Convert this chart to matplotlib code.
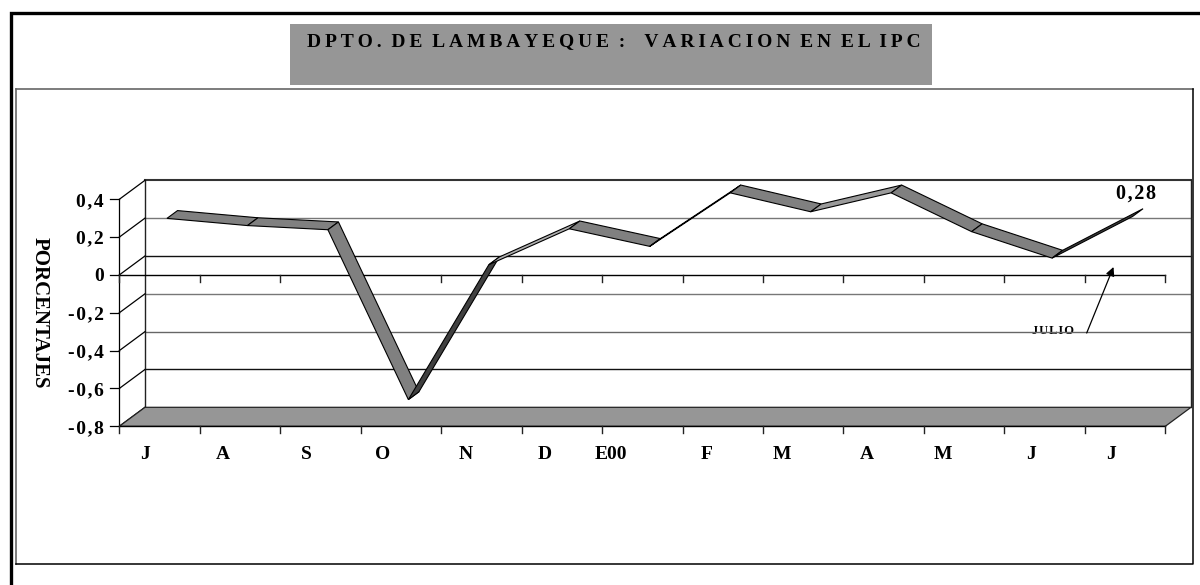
import matplotlib
matplotlib.use("Agg")
import matplotlib.pyplot as plt
from matplotlib.patches import Polygon, Rectangle
from matplotlib.transforms import Affine2D

months = ["J", "A", "S", "O", "N", "D", "E00", "F", "M", "A", "M", "J", "J"]
ipc_values = [0.27, 0.232, 0.21, -0.688, 0.025, 0.215, 0.122, 0.405, 0.305, 0.405, 0.20, 0.06, 0.28]
y_ticks = [-0.8, -0.6, -0.4, -0.2, 0, 0.2, 0.4]
y_tick_labels = ["-0,8", "-0,6", "-0,4", "-0,2", "0", "0,2", "0,4"]
title_text = "DPTO. DE LAMBAYEQUE :  VARIACION EN EL IPC"
y_title = "PORCENTAJES"
last_label = "0,28"
note_label = "JULIO"

THIN = "\u2009"
HAIR = "\u200a"


def track(s, sep):
    out = ""
    for a, b in zip(s, s[1:] + " "):
        out += a
        if a != " " and b != " ":
            out += sep
    return out


W, H = 1200, 585
plt.rcParams["font.family"] = ["Liberation Serif", "DejaVu Serif"]
plt.rcParams["font.weight"] = "bold"
fig = plt.figure(figsize=(W / 100, H / 100), dpi=100, facecolor="white")

# Overlay in pixel coordinates for the page frames and title box
page = fig.add_axes([0, 0, 1, 1], zorder=0)
page.set_xlim(0, W); page.set_ylim(H, 0); page.axis("off")
page.plot([10.5, 10.5, W], [H, 12.5, 12.5], color="black", lw=2.4, solid_joinstyle="miter")
page.plot([16, 16], [88.5, 563.5], color="#666666", lw=1.2)
page.plot([16, 1192.8], [88.5, 88.5], color="#666666", lw=1.2)
page.plot([16, 1192.8, 1192.8], [563.5, 563.5, 88.5], color="black", lw=1.1)
page.add_patch(Rectangle((290, 24), 642, 61, facecolor="#969696", edgecolor="none"))
page.text(306.7, 42, track(title_text, THIN).replace(" ", "  "), ha="left", va="center", fontsize=14, color="black")

# Chart axes: front plane of the 3D plot
L, R, T, B = 119.3, 1165.3, 199.3, 426.3
ax = fig.add_axes([L / W, 1 - B / H, (R - L) / W, (B - T) / H], zorder=1)
ax.set_xlim(0, len(months)); ax.set_ylim(-0.8, 0.4)
ax.axis("off"); ax.patch.set_alpha(0)

DX, DY = 25.7, 19.0   # full depth in pixels


def at_depth(f):
    return ax.transData + Affine2D().translate(DX * f, DY * f)


back = at_depth(1)
x_end = len(months)

# Back wall gridlines
grid_colors = {-0.6: "#111111", -0.4: "#666666", -0.2: "#777777", 0: "#111111", 0.2: "#777777", 0.4: "#333333"}
for v in y_ticks[1:]:
    ax.plot([0, x_end], [v, v], transform=back, color=grid_colors[v],
            lw=1.5 if v == 0.4 else 1.0, clip_on=False, zorder=1)
ax.plot([0, 0], [-0.8, 0.4], transform=back, color="#222222", lw=1.0, clip_on=False, zorder=1)
ax.plot([x_end, x_end], [-0.8, 0.4], transform=back, color="#222222", lw=1.0, clip_on=False, zorder=1)

# Side wall connectors and value axis
px2x = x_end / (R - L)
px2y = 1.2 / (B - T)
for v, lab in zip(y_ticks, y_tick_labels):
    ax.plot([0, DX * px2x], [v, v + DY * px2y], color="black", lw=0.9, clip_on=False, zorder=1)
    ax.plot([-9 * px2x, 0], [v, v], color="black", lw=0.9, clip_on=False, zorder=1)
    ax.text(-15.5 * px2x, v - 2 * px2y, track(lab, HAIR), ha="right", va="center", fontsize=14, clip_on=False)
ax.plot([0, 0], [-0.8, 0.4], color="black", lw=0.9, clip_on=False, zorder=1)

# Floor
floor_pts = [ax.transData.transform((0, -0.8)), ax.transData.transform((x_end, -0.8)),
             back.transform((x_end, -0.8)), back.transform((0, -0.8))]
floor_px = ax.transData.inverted().transform(floor_pts)
ax.add_patch(Polygon(floor_px, closed=True, facecolor="#969696", edgecolor="#222222", lw=0.9, clip_on=False, zorder=2))

# Category axes with ticks
for y0 in (0, -0.8):
    ax.plot([0, x_end], [y0, y0], color="black", lw=1.0, clip_on=False, zorder=3)
    for i in range(x_end + 1):
        ax.plot([i, i], [y0, y0 - 7 * px2y], color="#222222", lw=1.0, clip_on=False, zorder=3)

label_nudge_px = [-14.5, -17, -14, -18, -16, -17, -31, -16, -21, -17, -21, -14, -14]
for i, m in enumerate(months):
    ax.text(i + 0.5 + label_nudge_px[i] * px2x, -0.8 - 28 * px2y, m, ha="center", va="center",
            fontsize=14, clip_on=False)

# Ribbon series
F0, F1 = 0.29, 0.70
centers = [i + 0.5 for i in range(len(months))]
ribbon_front = at_depth(F0)
ribbon_back = at_depth(F1)
inv = ax.transData.inverted()
seg_colors = ["#808080", "#808080", "#808080", "#404040", "#b0b0b0", "#808080", "#ffffff",
              "#808080", "#9a9a9a", "#808080", "#808080", "#404040"]
for k in range(len(centers) - 1):
    p = [ribbon_front.transform((centers[k], ipc_values[k])),
         ribbon_front.transform((centers[k + 1], ipc_values[k + 1])),
         ribbon_back.transform((centers[k + 1], ipc_values[k + 1])),
         ribbon_back.transform((centers[k], ipc_values[k]))]
    ax.add_patch(Polygon(inv.transform(p), closed=True, facecolor=seg_colors[k], edgecolor="black",
                         lw=0.8, clip_on=False, zorder=4, joinstyle="miter"))

# Annotations
page.text(1136, 193.5, track(last_label, HAIR), ha="center", va="center", fontsize=14.5, zorder=5)
page.text(1053, 331.5, track(note_label, HAIR), ha="center", va="center", fontsize=9, zorder=5)
ax.annotate("", xy=(1113.5, 267), xytext=(1086.7, 333), xycoords=page.transData, textcoords=page.transData,
            arrowprops=dict(arrowstyle="-|>", color="black", lw=0.9, mutation_scale=13, shrinkA=0, shrinkB=0),
            zorder=6, annotation_clip=False)

# Axis title
page.text(40, 313, y_title, rotation=-90, ha="center", va="center", fontsize=15, zorder=5)

fig.savefig("out.png", dpi=100)
